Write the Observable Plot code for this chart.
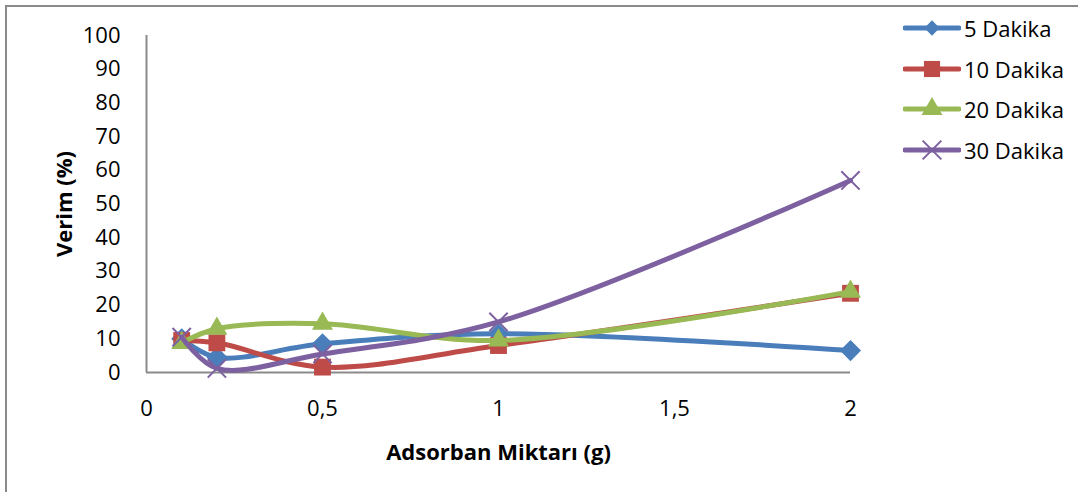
<!DOCTYPE html>
<html><head><meta charset="utf-8">
<script src="https://cdn.jsdelivr.net/npm/d3@7"></script>
<script src="https://cdn.jsdelivr.net/npm/@observablehq/plot@0.6"></script>
<style>
body{margin:0;background:#fff;}
#wrap{position:relative;width:1078px;height:492px;overflow:hidden;font-family:"Open Sans",sans-serif;background:#fff;}
#frame{position:absolute;left:5px;top:5px;width:1300px;height:700px;border:2px solid #8a8a8a;box-sizing:border-box;}
#chart{position:absolute;left:0;top:0;}
.leg{position:absolute;left:903px;height:30px;display:flex;align-items:center;font-size:22px;color:#000;white-space:nowrap;}
.leg svg{display:block;margin-right:3px;}
g[aria-label="x-axis label"] text, g[aria-label="y-axis label"] text{font-weight:bold;font-size:22px;}
</style></head><body>
<div id="wrap"><div id="frame"></div><div id="chart"></div><div id="legend"></div></div>
<script>
const adsorban = [0.1, 0.2, 0.5, 1, 2];
const seriesNames = ["5 Dakika", "10 Dakika", "20 Dakika", "30 Dakika"];
const dakika5  = [10, 4.5, 8.5, 11.5, 6.5];
const dakika10 = [9.5, 8.8, 1.6, 8, 23.5];
const dakika20 = [8.8, 13, 14.5, 9.5, 24];
const dakika30 = [10.5, 1.2, 5.5, 15, 57];
const xTicks = [0, 0.5, 1, 1.5, 2];
const yTicks = [0, 10, 20, 30, 40, 50, 60, 70, 80, 90, 100];
const seriesColors = ["#4A7EBB", "#BE4B48", "#98B954", "#7D60A0"];
const seriesSymbols = ["diamond2", "square", "triangle", "times"];
const markerR = [9.5, 9.5, 7.8, 8.4];

const allValues = [dakika5, dakika10, dakika20, dakika30];
const axisGray = "#8a8a8a";

const marks = [
  Plot.ruleY([0], {stroke: axisGray, strokeWidth: 2}),
  Plot.ruleX([0], {stroke: axisGray, strokeWidth: 2}),
  Plot.axisX({ticks: xTicks, tickFormat: d => String(d).replace(".", ","), tickSize: 0, tickPadding: 28,
    label: "Adsorban Miktarı (g)", labelAnchor: "center", labelOffset: 87, labelArrow: "none"}),
  Plot.axisY({ticks: yTicks, tickSize: 0, tickPadding: 26,
    label: "Verim (%)", labelAnchor: "center", labelOffset: 90, labelArrow: "none"})
];
seriesNames.forEach((name, i) => {
  const rows = adsorban.map((x, j) => ({x, y: allValues[i][j], series: name}));
  marks.push(Plot.line(rows, {x: "x", y: "y", stroke: seriesColors[i], strokeWidth: 5, curve: "catmull-rom"}));
  if (seriesSymbols[i] === "times") {
    marks.push(Plot.dot(rows, {x: "x", y: "y", symbol: "times", r: markerR[i], stroke: seriesColors[i], strokeWidth: 2, fill: "none"}));
  } else {
    marks.push(Plot.dot(rows, {x: "x", y: "y", symbol: seriesSymbols[i], r: markerR[i], fill: seriesColors[i], stroke: "none"}));
  }
});

const chart = Plot.plot({
  width: 1078, height: 492,
  marginLeft: 146, marginRight: 228, marginTop: 35, marginBottom: 120,
  style: {fontFamily: "Open Sans, sans-serif", fontSize: "22px", background: "transparent", color: "#000"},
  x: {domain: [0, 2]},
  y: {domain: [0, 100]},
  marks
});
document.getElementById("chart").appendChild(chart);

// legend
const symMap = {diamond2: d3.symbolDiamond2, square: d3.symbolSquare, triangle: d3.symbolTriangle, times: d3.symbolTimes};
const legSizes = [150, 260, 190, 230];
const legend = d3.select("#legend");
const legTop = [28, 69, 109, 150];
seriesNames.forEach((name, i) => {
  const row = legend.append("div").attr("class", "leg").style("top", (legTop[i] - 15) + "px");
  const svg = row.append("svg").attr("width", 58).attr("height", 30);
  svg.append("line").attr("x1", 2).attr("x2", 56).attr("y1", 15).attr("y2", 15)
    .attr("stroke", seriesColors[i]).attr("stroke-width", 5).attr("stroke-linecap", "round");
  const p = svg.append("path").attr("transform", "translate(29,15)")
    .attr("d", d3.symbol(symMap[seriesSymbols[i]], legSizes[i])());
  if (seriesSymbols[i] === "times") p.attr("fill", "none").attr("stroke", seriesColors[i]).attr("stroke-width", 2);
  else p.attr("fill", seriesColors[i]);
  row.append("span").text(name);
});
</script>
</body></html>
